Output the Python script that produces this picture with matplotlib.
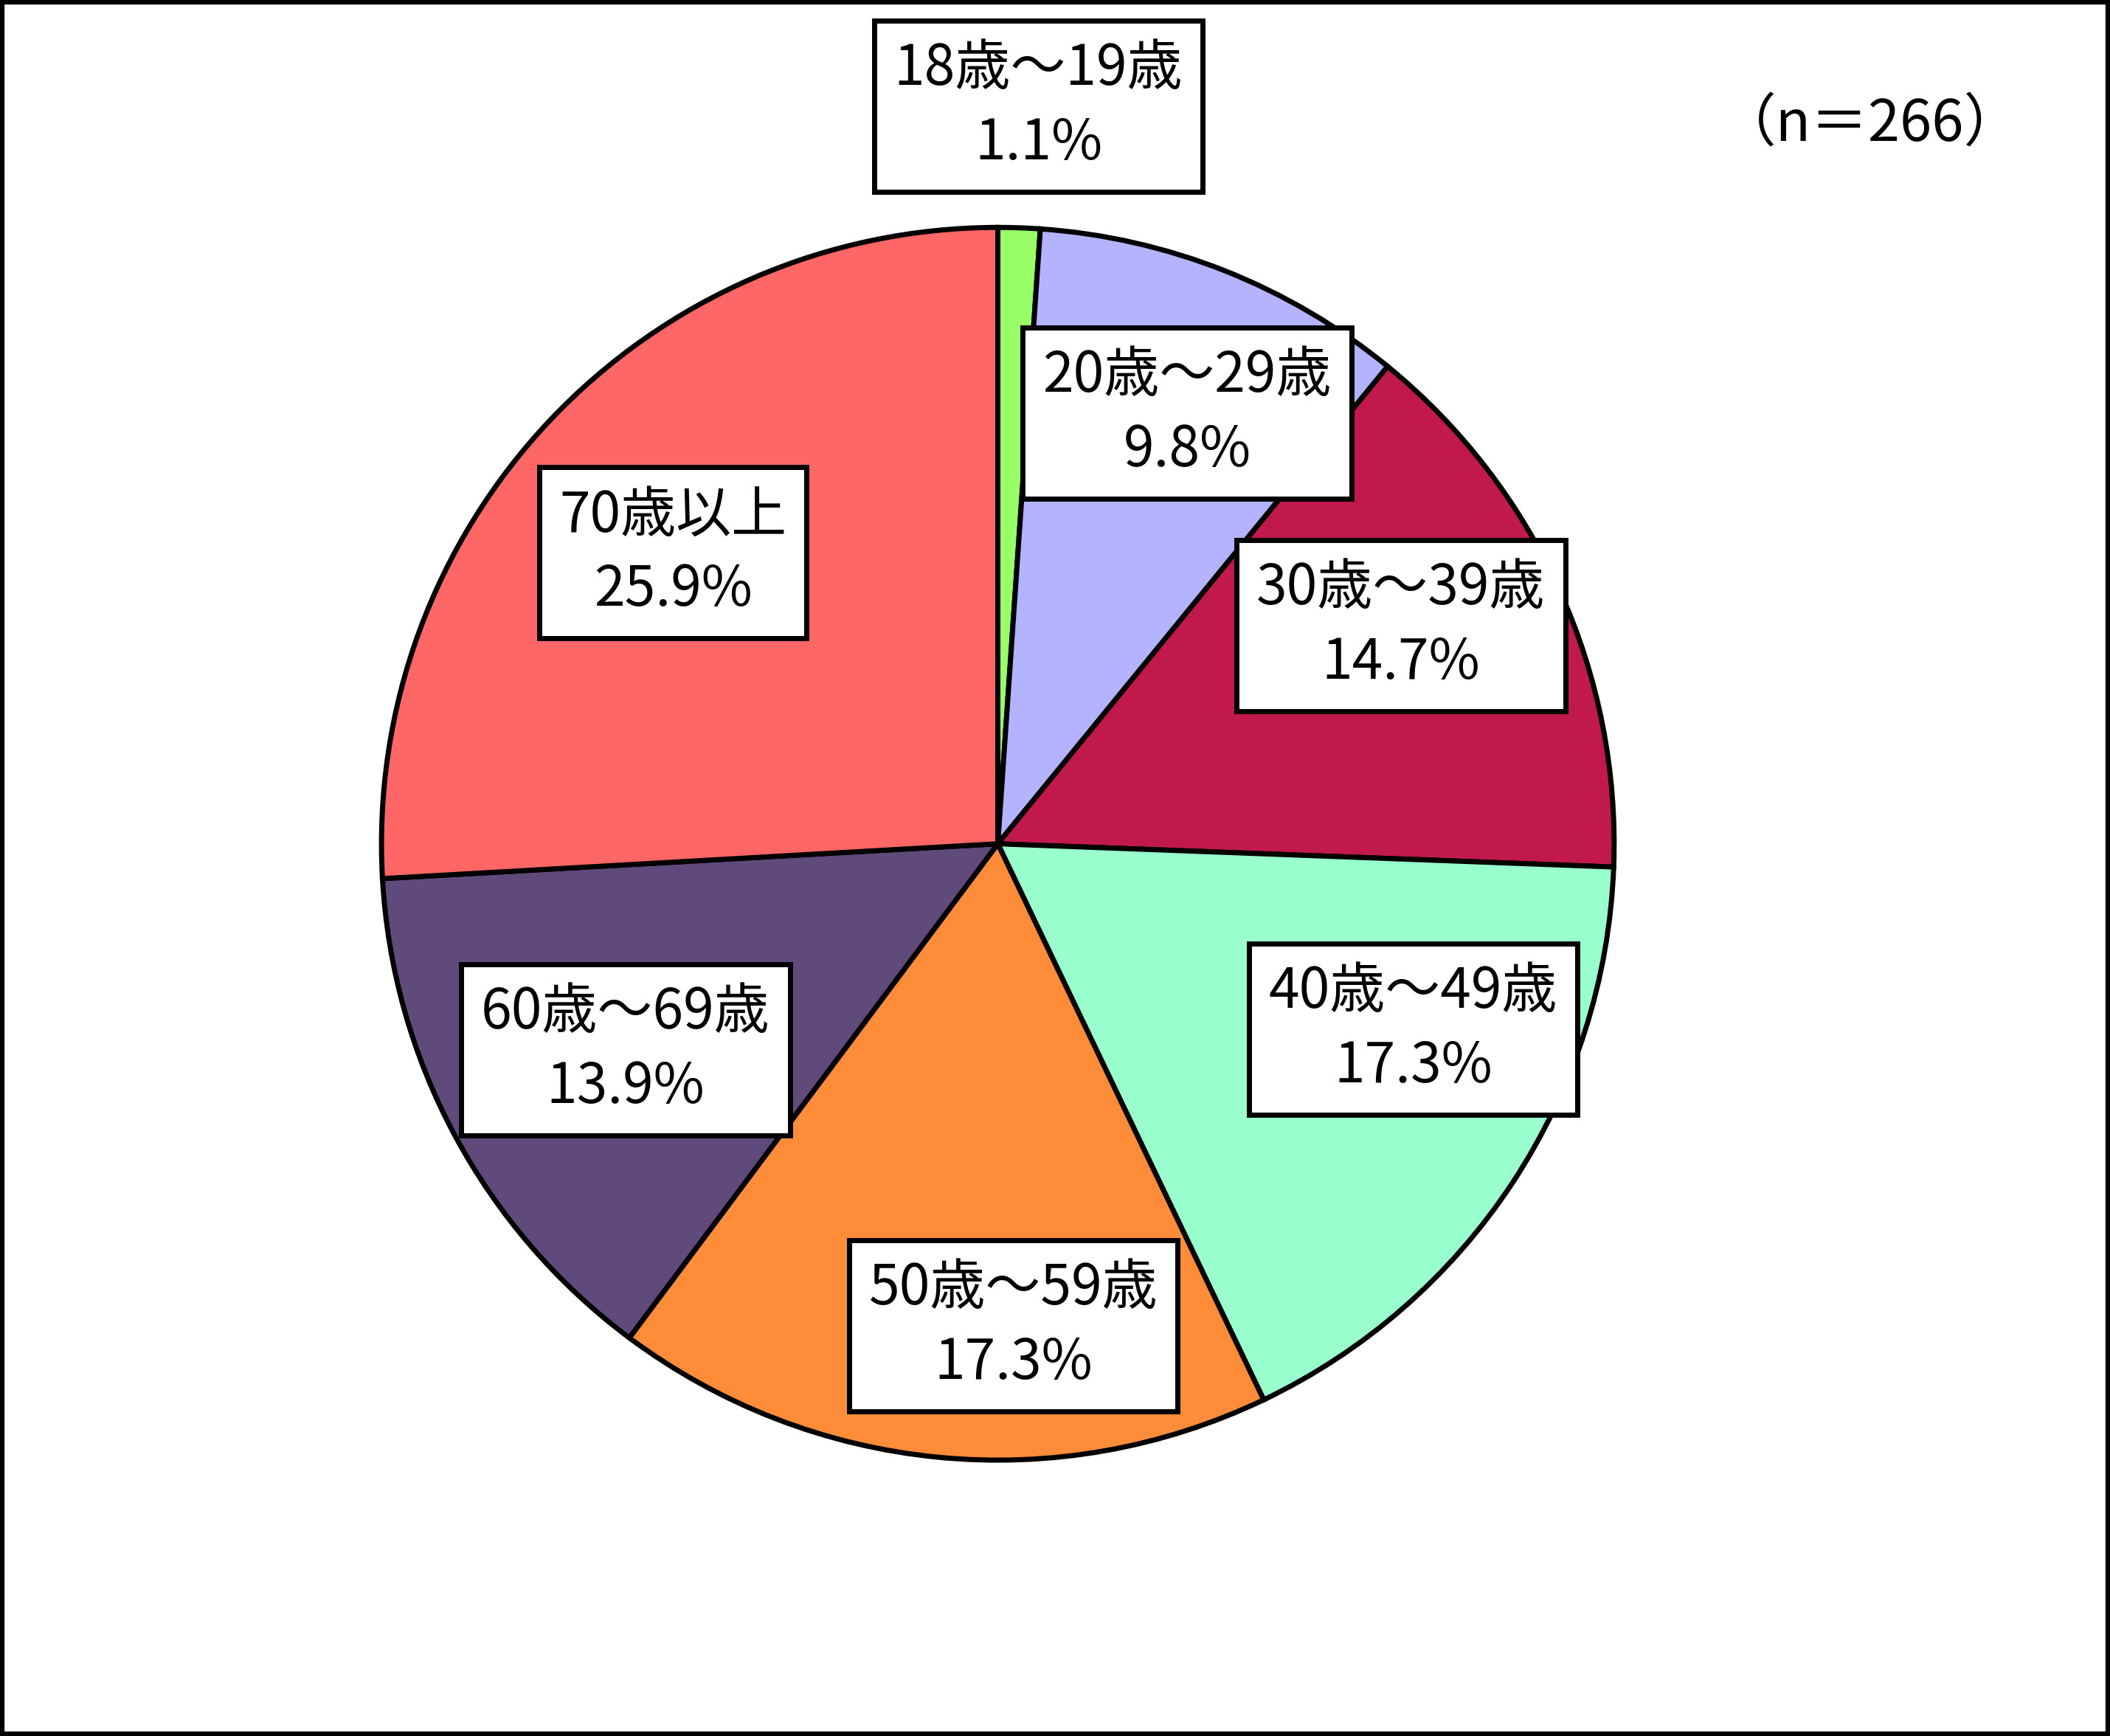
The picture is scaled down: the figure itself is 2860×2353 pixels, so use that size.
import matplotlib
matplotlib.use("Agg")
import matplotlib.pyplot as plt
from matplotlib.patches import Rectangle

plt.rcParams['font.family'] = ['Noto Sans CJK JP', 'DejaVu Sans']

# データ
categories = ["18歳～19歳", "20歳～29歳", "30歳～39歳", "40歳～49歳",
              "50歳～59歳", "60歳～69歳", "70歳以上"]
shares = [1.1, 9.8, 14.7, 17.3, 17.3, 13.9, 25.9]
colors = ["#99FF66", "#B3B3FF", "#C1194B", "#99FFCC",
          "#FF8C38", "#604A7B", "#FF6666"]
sample_note = "（n＝266）"

# ラベル位置 (円の半径 = 1)
label_pos = [(0.066, 1.197), (0.307, 0.699), (0.654, 0.354), (0.674, -0.301),
             (0.025, -0.782), (-0.604, -0.334), (-0.527, 0.472)]

fig = plt.figure(figsize=(28.6, 23.53), dpi=100)
ax = fig.add_axes([0, 0, 1, 1])

ax.pie(shares, colors=colors, startangle=90, counterclock=False,
       radius=1.0, wedgeprops=dict(edgecolor="black", linewidth=5))

ax.set_xlim(-1.619, 1.8046)
ax.set_ylim(-1.4476, 1.369)
ax.set_aspect("auto")
ax.axis("off")

for name, val, (x, y) in zip(categories, shares, label_pos):
    ax.text(x, y, f"{name}\n{val:.1f}%", ha="center", va="center",
            fontsize=54, linespacing=1.4, color="black",
            bbox=dict(boxstyle="square,pad=0.36", facecolor="white",
                      edgecolor="black", linewidth=5))

ax.text(1.416, 1.166, sample_note, ha="center", va="center",
        fontsize=56, color="black")

# 外枠
inset = 3 / 2860
fig.patches.append(Rectangle((inset, inset * 2860 / 2353), 1 - 2 * inset,
                             1 - 2 * inset * 2860 / 2353, transform=fig.transFigure,
                             fill=False, edgecolor="black", linewidth=4.5))

fig.savefig("out.png", dpi=100, facecolor="white")
